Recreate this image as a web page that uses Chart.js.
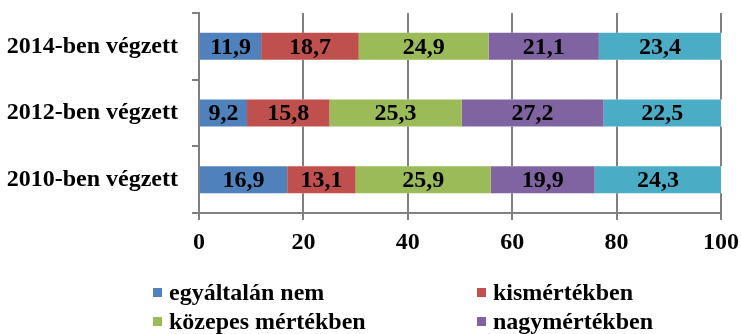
<!DOCTYPE html>
<html lang="hu">
<head>
<meta charset="utf-8">
<script src="https://cdn.jsdelivr.net/npm/chart.js@4.4.1/dist/chart.umd.min.js"></script>
<style>
  html, body { margin: 0; padding: 0; background: #fff; }
  #wrap { position: relative; width: 741px; height: 334px; }
  #legend { position: absolute; left: 0; top: 0; width: 741px; height: 334px; pointer-events: none;
            font: bold 24px "Liberation Serif", "Times New Roman", serif; color: #000; }
  .item { position: absolute; white-space: nowrap; line-height: 28px; }
  .box { position: absolute; width: 9px; height: 9px; top: 10px; left: -16px; }
</style>
</head>
<body>
<div id="wrap">
  <canvas id="BarChart" width="741" height="334"></canvas>
  <div id="legend"></div>
</div>
<script>
const categories = ['2010-ben végzett', '2012-ben végzett', '2014-ben végzett'];
const seriesNames = ['egyáltalán nem', 'kismértékben', 'közepes mértékben', 'nagymértékben', 'teljes mértékben'];
const seriesColors = ['#4F81BD', '#C0504D', '#9BBB59', '#8064A2', '#4BACC6'];

// one array per answer, in category order (2010, 2012, 2014)
const egyaltalanNem = [16.9, 9.2, 11.9];
const kismertekben = [13.1, 15.8, 18.7];
const kozepesMertekben = [25.9, 25.3, 24.9];
const nagymertekben = [19.9, 27.2, 21.1];
const teljesMertekben = [24.3, 22.5, 23.4];
const seriesValues = [egyaltalanNem, kismertekben, kozepesMertekben, nagymertekben, teljesMertekben];

const xTicks = [0, 20, 40, 60, 80, 100];

const font = { family: '"Liberation Serif", "Times New Roman", serif', size: 24, weight: 'bold' };
const gridColor = '#808080';

const datasets = seriesNames.map((name, i) => ({
  label: name,
  data: seriesValues[i],
  backgroundColor: seriesColors[i],
  borderWidth: 0,
  barPercentage: 0.405,
  categoryPercentage: 1
}));

// vertical grid lines, only in the gaps between the bar rows
const xGrid = {
  id: 'xGrid',
  afterDraw(chart) {
    const ctx = chart.ctx;
    const area = chart.chartArea;
    const x = chart.scales.x;
    const y = chart.scales.y;
    const half = chart.getDatasetMeta(0).data[0].height / 2;
    const rows = categories.map((c, i) => y.getPixelForValue(i))
      .map(p => [p - half, p + half])
      .sort((a, b) => a[0] - b[0]);
    const gaps = [];
    let top = area.top;
    rows.forEach(r => { gaps.push([top, r[0]]); top = r[1]; });
    gaps.push([top, area.bottom]);
    ctx.save();
    ctx.fillStyle = gridColor;
    xTicks.forEach(v => {
      const px = Math.round(x.getPixelForValue(v));
      gaps.forEach(g => ctx.fillRect(px - 1, g[0], 2, g[1] - g[0]));
    });
    ctx.restore();
  }
};

// writes the value in the middle of each segment
const valueLabels = {
  id: 'valueLabels',
  afterDatasetsDraw(chart) {
    const ctx = chart.ctx;
    ctx.save();
    ctx.font = `${font.weight} ${font.size}px ${font.family}`;
    ctx.fillStyle = '#000';
    ctx.textAlign = 'center';
    ctx.textBaseline = 'middle';
    chart.data.datasets.forEach((ds, i) => {
      chart.getDatasetMeta(i).data.forEach((bar, j) => {
        const p = bar.getCenterPoint();
        ctx.fillText(ds.data[j].toFixed(1).replace('.', ','), p.x, p.y + 1);
      });
    });
    ctx.restore();
  }
};

const config = {
  type: 'bar',
  data: { labels: categories, datasets: datasets },
  options: {
    indexAxis: 'y',
    responsive: false,
    animation: false,
    layout: { padding: { top: 13, left: 0, right: 20, bottom: 80 } },
    plugins: { legend: { display: false }, tooltip: { enabled: false } },
    scales: {
      x: {
        stacked: true,
        min: 0,
        max: 100,
        afterBuildTicks: s => { s.ticks = xTicks.map(v => ({ value: v })); },
        afterFit: s => { s.height = 41; s.paddingLeft = 0; s.paddingRight = 0; },
        grid: { drawOnChartArea: false, color: gridColor, lineWidth: 2, tickLength: 7, tickColor: gridColor },
        border: { color: gridColor, width: 2 },
        ticks: { color: '#000', font: font, padding: 8, maxRotation: 0 }
      },
      y: {
        stacked: true,
        reverse: true,
        afterFit: s => { s.width = 199; s.paddingTop = 0; s.paddingBottom = 0; },
        grid: { drawOnChartArea: false, offset: true, tickLength: 7, color: gridColor, lineWidth: 2 },
        border: { color: gridColor, width: 2 },
        ticks: { color: '#000', font: font, padding: 14 }
      }
    }
  },
  plugins: [xGrid, valueLabels]
};

const myChart = new Chart(document.getElementById('BarChart'), config);

// legend in two columns, last entry falls outside the visible area
const legendPos = [[169, 278], [493, 278], [169, 307], [493, 307], [169, 336]];
const legend = document.getElementById('legend');
myChart.data.datasets.forEach((ds, i) => {
  const item = document.createElement('div');
  item.className = 'item';
  item.style.left = legendPos[i][0] + 'px';
  item.style.top = legendPos[i][1] + 'px';
  const box = document.createElement('span');
  box.className = 'box';
  box.style.background = ds.backgroundColor;
  item.appendChild(box);
  item.appendChild(document.createTextNode(ds.label));
  legend.appendChild(item);
});
</script>
</body>
</html>
